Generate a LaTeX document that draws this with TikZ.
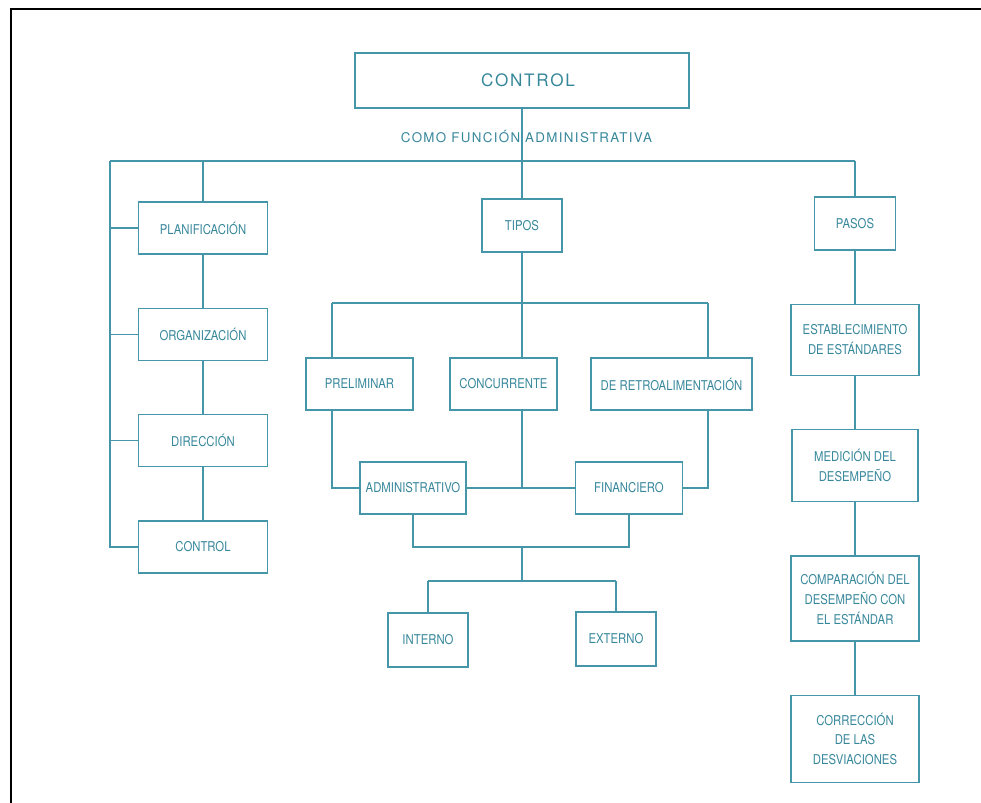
\documentclass[tikz,border=0pt]{standalone}
\usepackage{fontspec}
\usetikzlibrary{positioning}
\setmainfont{TeX Gyre Heros}
\newfontfamily\boxfont{TeX Gyre Heros}[FakeStretch=0.84]
\newfontfamily\subfont{TeX Gyre Heros}[LetterSpace=10]
\newfontfamily\titlefont{TeX Gyre Heros}[LetterSpace=10]
\definecolor{ink}{RGB}{55,135,155}
\definecolor{rule}{RGB}{70,150,170}

\begin{document}
\begin{tikzpicture}[x=0.025cm, y=-0.025cm, rule, line width=0.9pt, node distance=1.325cm,
  box/.style 2 args={draw, text=ink, font=\boxfont\fontsize{9.6}{14}\selectfont, align=center, inner sep=2pt, minimum width=#1cm, minimum height=#2cm}]
\useasboundingbox (0,0) rectangle (981,803);
\draw[black, line width=1.5pt] (11,803) -- (11,9) -- (981,9);

\node[box={8.35}{1.375}, font=\titlefont\fontsize{12.2}{14}\selectfont] (ctl) at (522,80.5) {\hspace*{0.7em}CONTROL};
\node[text=ink, font=\subfont\fontsize{9.5}{11}\selectfont] (sub) at (526.5,136) {COMO FUNCIÓN ADMINISTRATIVA};

\node[box={3.225}{1.3}] (pla) at (203,228) {PLANIFICACIÓN};
\node[box={3.225}{1.3}, below=of pla] (org) {ORGANIZACIÓN};
\node[box={3.225}{1.3}, below=of org] (dir) {DIRECCIÓN};
\node[box={3.225}{1.3}, below=of dir] (fun) {CONTROL};

\node[box={2.0}{1.325}] (tip) at (522,225.5) {TIPOS};
\node[box={2.675}{1.3}] (pre) at (359.5,384) {PRELIMINAR};
\node[box={2.675}{1.3}] (cc) at (503.5,384) {CONCURRENTE};
\node[box={4.025}{1.3}] (ret) at (671.5,384) {DE RETROALIMENTACIÓN};
\node[box={2.65}{1.3}] (adm) at (413,488) {ADMINISTRATIVO};
\node[box={2.675}{1.3}] (fin) at (629,488) {FINANCIERO};
\node[box={2.0}{1.35}] (int) at (428,640) {INTERNO};
\node[box={2.0}{1.35}] (ext) at (616,639) {EXTERNO};

\node[box={2.025}{1.325}] (pas) at (855,223.5) {PASOS};
\node[box={3.2}{1.775}, below=of pas] (est) {ESTABLECIMIENTO\\DE ESTÁNDARES};
\node[box={3.15}{1.8}, below=of est] (med) {MEDICIÓN DEL\\DESEMPEÑO};
\node[box={3.2}{2.125}, below=of med] (comp) {COMPARACIÓN DEL\\DESEMPEÑO CON\\EL ESTÁNDAR};
\node[box={3.2}{2.175}, below=of comp] (corr) {CORRECCIÓN\\DE LAS\\DESVIACIONES};

\coordinate (busL) at (110,161);
\coordinate (busR) at (855,161);
\coordinate (tL) at (332,303);
\coordinate (tR) at (708,303);
\coordinate (bR) at (629,547);
\coordinate (iL) at (428,581);
\coordinate (iR) at (616,581);

\draw (ctl) -- (tip);
\draw (busL) -- (busR);
\draw (busL) |- (fun);
\foreach \n in {pla,org,dir}
  \draw (busL |- \n) -- (\n);
\draw (pla |- busL) -- (pla);
\draw (pla) -- (org);
\draw (org) -- (dir);
\draw (dir) -- (fun);

\draw (busR) -- (pas);
\draw (pas) -- (est);
\draw (est) -- (med);
\draw (med) -- (comp);
\draw (comp) -- (corr);

\draw (tip) -- (tip |- cc.north);
\draw (tL) -- (tR);
\draw (tL) -- (tL |- pre.north);
\draw (tR) -- (tR |- ret.north);
\draw (tL |- pre.south) |- (adm);
\draw (tR |- ret.south) |- (fin);
\draw (tip |- cc.south) -- (tip |- adm);
\draw (adm) -- (fin);
\draw (adm) |- (bR) -- (fin);
\draw (tip |- bR) -- (tip |- iL);
\draw (iL) -- (iR);
\draw (iL) -- (int);
\draw (iR) -- (ext);
\end{tikzpicture}
\end{document}
